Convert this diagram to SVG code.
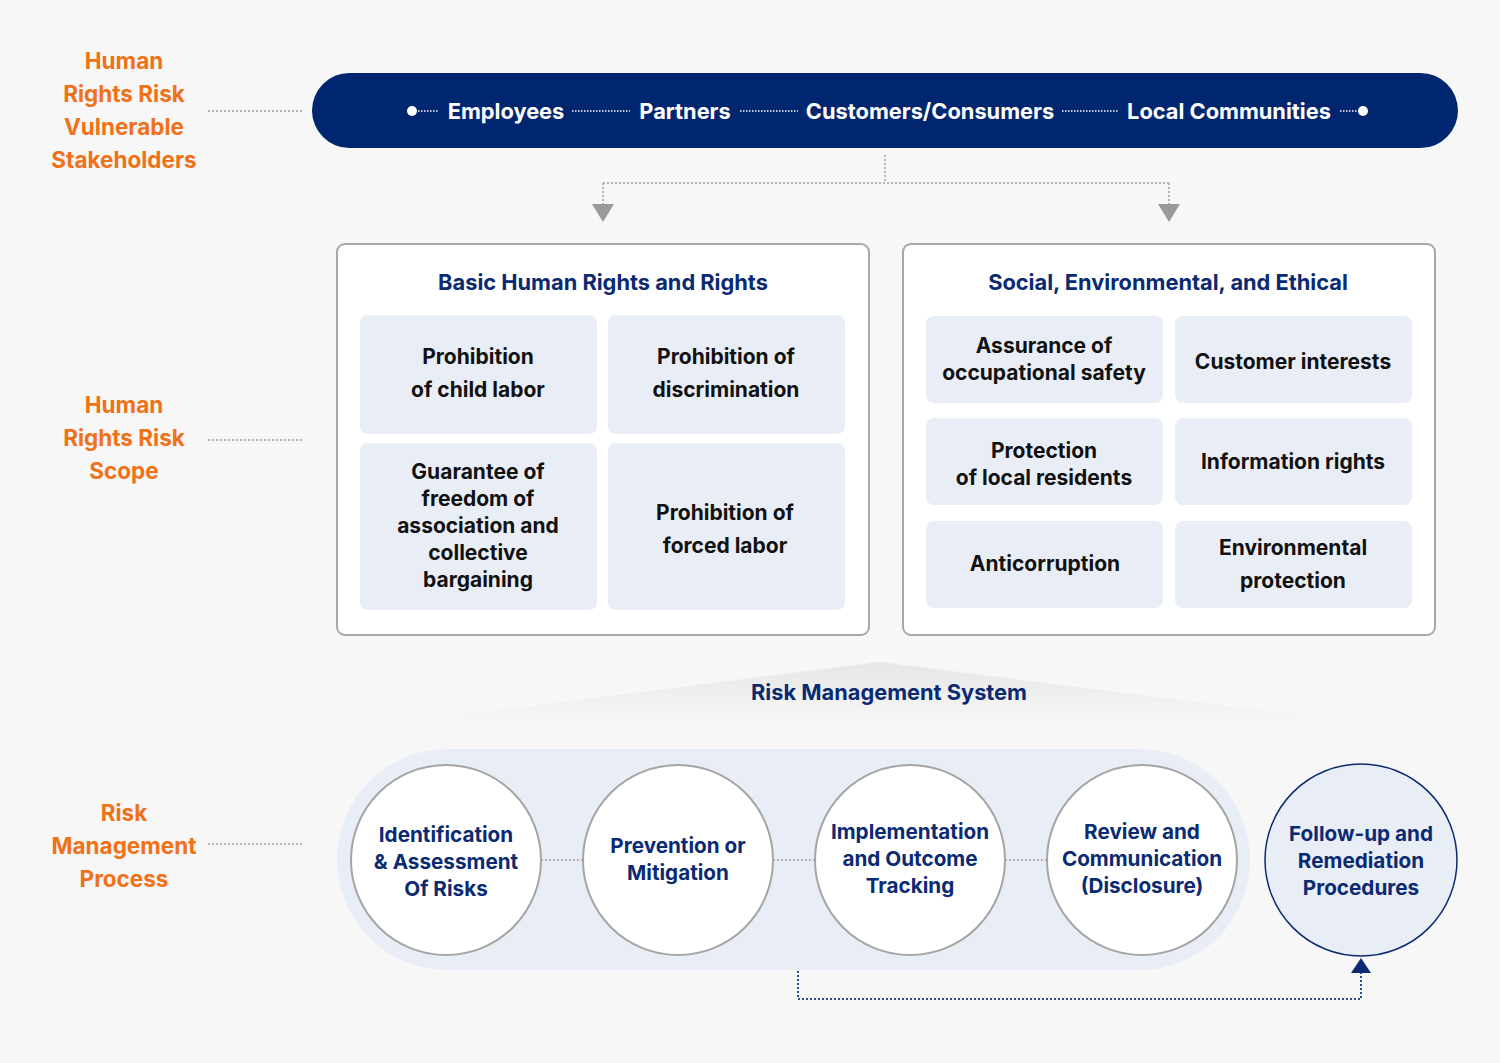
<svg xmlns="http://www.w3.org/2000/svg" width="1500" height="1063" viewBox="0 0 1500 1063">
<defs>
<style>
text{font-family:Inter,"Noto Sans","Liberation Sans",sans-serif;font-weight:700;text-anchor:middle;dominant-baseline:central}
.lab{fill:#f07118;font-size:22.5px}
.stk{fill:#ffffff;font-size:21.8px}
.ttl{fill:#0a2a72;font-size:21.8px}
.item{fill:#111111;font-size:21px}
.circ{fill:#0a2a72;font-size:20.7px}
.card{fill:#ffffff;stroke:#a8a8a8;stroke-width:2}
.cell{fill:#e9edf6}
.gdot{stroke:#b5b5b5;stroke-width:2;stroke-dasharray:2 2;fill:none}
.wdot{stroke:#ffffff;stroke-width:1.5;stroke-dasharray:1.5 1.5;fill:none}
.step{fill:#ffffff;stroke:#a5a5a5;stroke-width:2}
</style>
<linearGradient id="roof" x1="0" y1="0" x2="0" y2="1">
<stop offset="0" stop-color="#e6e6e6"/>
<stop offset="1" stop-color="#f7f7f7"/>
</linearGradient>
</defs>
<rect x="0" y="0" width="1500" height="1063" fill="#f7f7f7"/>

<g id="labels">
<text class="lab" x="124" y="60">Human</text>
<text class="lab" x="124" y="93">Rights Risk</text>
<text class="lab" x="124" y="126">Vulnerable</text>
<text class="lab" x="124" y="159">Stakeholders</text>
<text class="lab" x="124" y="404">Human</text>
<text class="lab" x="124" y="437">Rights Risk</text>
<text class="lab" x="124" y="470">Scope</text>
<text class="lab" x="124" y="812">Risk</text>
<text class="lab" x="124" y="845">Management</text>
<text class="lab" x="124" y="878">Process</text>
</g>

<g id="connectors">
<line class="gdot" x1="208" y1="111" x2="302" y2="111"/>
<line class="gdot" x1="208" y1="440" x2="302" y2="440"/>
<line class="gdot" x1="208" y1="844" x2="302" y2="844"/>
<path class="gdot" d="M885 155 V183 M603 183 H1169 M603 183 V206 M1169 183 V206"/>
<polygon points="592,204 614,204 603,222" fill="#9a9a9a"/>
<polygon points="1158,204 1180,204 1169,222" fill="#9a9a9a"/>
</g>

<g id="stakeholders">
<rect x="312" y="73" width="1146" height="75" rx="37.5" fill="#012670"/>
<circle cx="412" cy="111" r="5" fill="#ffffff"/>
<circle cx="1363" cy="111" r="5" fill="#ffffff"/>
<path class="wdot" d="M418 111 H438 M572 111 H630 M740 111 H798 M1062 111 H1118 M1340 111 H1358"/>
<text class="stk" x="506" y="111">Employees</text>
<text class="stk" x="685" y="111">Partners</text>
<text class="stk" x="930" y="111">Customers/Consumers</text>
<text class="stk" x="1229" y="111">Local Communities</text>
</g>

<g id="basic-rights">
<rect class="card" x="337" y="244" width="532" height="391" rx="8"/>
<text class="ttl" x="603" y="282">Basic Human Rights and Rights</text>
<rect class="cell" x="360" y="315" width="237" height="119" rx="8"/>
<rect class="cell" x="608" y="315" width="237" height="119" rx="8"/>
<rect class="cell" x="360" y="443" width="237" height="167" rx="8"/>
<rect class="cell" x="608" y="443" width="237" height="167" rx="8"/>
<text class="item" x="478" y="356">Prohibition</text>
<text class="item" x="478" y="389">of child labor</text>
<text class="item" x="726" y="356">Prohibition of</text>
<text class="item" x="726" y="389">discrimination</text>
<text class="item" x="478" y="471">Guarantee of</text>
<text class="item" x="478" y="498">freedom of</text>
<text class="item" x="478" y="525">association and</text>
<text class="item" x="478" y="552">collective</text>
<text class="item" x="478" y="579">bargaining</text>
<text class="item" x="725" y="512">Prohibition of</text>
<text class="item" x="725" y="545">forced labor</text>
</g>

<g id="social-env-ethical">
<rect class="card" x="903" y="244" width="532" height="391" rx="8"/>
<text class="ttl" x="1168" y="282">Social, Environmental, and Ethical</text>
<rect class="cell" x="926" y="316" width="237" height="87" rx="8"/>
<rect class="cell" x="1175" y="316" width="237" height="87" rx="8"/>
<rect class="cell" x="926" y="418" width="237" height="87" rx="8"/>
<rect class="cell" x="1175" y="418" width="237" height="87" rx="8"/>
<rect class="cell" x="926" y="521" width="237" height="87" rx="8"/>
<rect class="cell" x="1175" y="521" width="237" height="87" rx="8"/>
<text class="item" x="1044" y="345">Assurance of</text>
<text class="item" x="1044" y="372">occupational safety</text>
<text class="item" x="1293" y="361">Customer interests</text>
<text class="item" x="1044" y="450">Protection</text>
<text class="item" x="1044" y="477">of local residents</text>
<text class="item" x="1293" y="461">Information rights</text>
<text class="item" x="1045" y="563">Anticorruption</text>
<text class="item" x="1293" y="547">Environmental</text>
<text class="item" x="1293" y="580">protection</text>
</g>

<g id="risk-system">
<polygon points="880,662 396,723 1364,723" fill="url(#roof)"/>
<text class="ttl" x="889" y="692">Risk Management System</text>
</g>

<g id="process">
<rect x="337" y="749" width="913" height="221" rx="110.5" fill="#e8edf6"/>
<path class="gdot" d="M541 860 H583 M773 860 H815 M1005 860 H1047"/>
<g id="step1">
<circle class="step" cx="446" cy="860" r="95"/>
<text class="circ" x="446" y="834">Identification</text>
<text class="circ" x="446" y="861">&amp; Assessment</text>
<text class="circ" x="446" y="888">Of Risks</text>
</g>
<g id="step2">
<circle class="step" cx="678" cy="860" r="95"/>
<text class="circ" x="678" y="845">Prevention or</text>
<text class="circ" x="678" y="872">Mitigation</text>
</g>
<g id="step3">
<circle class="step" cx="910" cy="860" r="95"/>
<text class="circ" x="910" y="831">Implementation</text>
<text class="circ" x="910" y="858">and Outcome</text>
<text class="circ" x="910" y="885">Tracking</text>
</g>
<g id="step4">
<circle class="step" cx="1142" cy="860" r="95"/>
<text class="circ" x="1142" y="831">Review and</text>
<text class="circ" x="1142" y="858">Communication</text>
<text class="circ" x="1142" y="885">(Disclosure)</text>
</g>
</g>

<g id="follow-up">
<circle cx="1361" cy="860" r="96" fill="#e9edf6" stroke="#0a2a72" stroke-width="1.5"/>
<text class="circ" x="1361" y="833">Follow-up and</text>
<text class="circ" x="1361" y="860">Remediation</text>
<text class="circ" x="1361" y="887">Procedures</text>
</g>

<g id="feedback-connector">
<path d="M798 971 V999 H1361 V972" fill="none" stroke="#2a4a9a" stroke-width="2" stroke-dasharray="2 2"/>
<polygon points="1351,973 1371,973 1361,958" fill="#0a2a72"/>
</g>
</svg>
